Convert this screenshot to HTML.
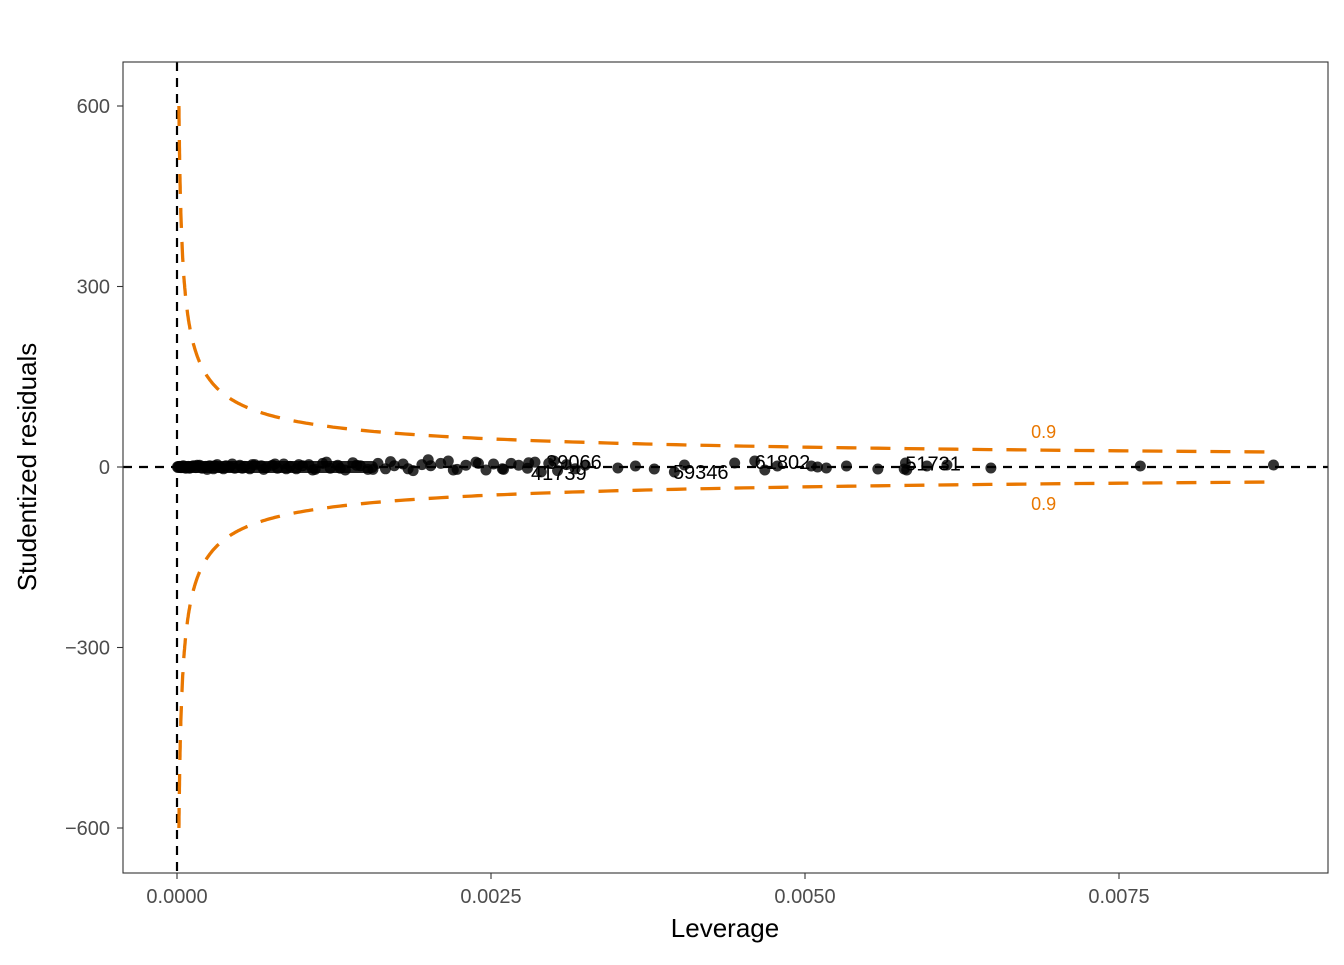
<!DOCTYPE html>
<html><head><meta charset="utf-8"><style>
body{margin:0;background:#fff}
svg text{font-family:"Liberation Sans",sans-serif}
</style></head><body>
<svg id="c" width="1344" height="960" viewBox="0 0 1344 960">
<rect x="0" y="0" width="1344" height="960" fill="#fff"/>
<g id="grid"></g>
<g id="marks"></g>
<rect x="123" y="62" width="1205" height="811" fill="none" stroke="#333" stroke-width="1.1"/>
<text x="725" y="937" text-anchor="middle" font-size="26" fill="#000">Leverage</text>
<text transform="translate(36,467) rotate(-90)" text-anchor="middle" font-size="26" fill="#000">Studentized residuals</text>
</svg>
<script>
const xTicks=[0,0.0025,0.005,0.0075];
const xTickLabels=["0.0000","0.0025","0.0050","0.0075"];
const yTicks=[-600,-300,0,300,600];
const yTickLabels=["-600","-300","0","300","600"];
const cookLevel=0.9;
const cookConst=2.34;
// leverage in units of 1e-4, residuals
const lev=[0.1,0.2,0.3,0.5,0.7,0.9,1.1,1.3,1.5,1.8,2.0,2.3,2.6,2.9,3.2,3.5,3.9,4.2,4.6,5.0,5.4,5.8,6.2,6.7,7.1,7.6,8.0,8.5,9.0,9.5,10.0,10.5,11.0,11.6,12.2,12.8,13.4,14.0,14.6,15.2,16.0,16.6,17.3,18.0,18.8,19.5,20.2,21.0,21.6,22.3,23.0,23.8,24.6,25.2,25.9,26.6,27.2,27.9,28.5,29.0,29.6,30.3,31.0,31.7,32.5,0.4,1.0,1.6,2.4,3.0,3.7,4.4,5.2,6.0,6.9,7.8,8.7,9.7,10.8,11.9,13.0,14.3,15.6,17.0,18.4,20.0,22.0,24.0,26.0,28.0,30.0,35.1,36.5,38.0,39.6,40.4,44.4,46.0,46.8,47.8,50.5,51.0,51.7,53.3,55.8,57.9,58.0,58.1,59.7,61.3,64.8,76.7,87.3];
const res=[0,1,-1,2,-2,1,0,2,-1,3,-2,1,2,-3,4,-1,2,0,-2,3,1,-3,4,2,-1,3,-2,5,1,-3,2,4,-4,6,-2,3,-5,7,2,-4,6,-3,2,5,-6,4,2,6,10,-4,3,8,-5,5,-3,6,3,-2,8,-8,6,-6,4,-3,3,-1,-2,3,-4,2,-3,5,-2,4,-4,5,-3,4,-5,8,-2,3,-4,9,-3,12,-5,6,-4,7,10,-1.7,1.7,-3.3,-8.3,3.3,6.6,10,-5,1.7,1.7,0,-1.7,1.7,-3.3,-3.3,6.6,-5,1.7,3.3,-1.7,1.7,3.3];
const labelText=["39066","41739","59346","61802","51731"];
const labelLev=[31.6,30.4,41.7,48.2,60.2];
const labelRes=[8,-10,-8,8,6];

const NS="http://www.w3.org/2000/svg";
const X0=177,XPX=314/0.0025,Y0=467,YPX=180.5/300;
const sx=v=>X0+v*XPX, sy=v=>Y0-v*YPX;
const svg=document.getElementById('c'),g=document.getElementById('grid'),m=document.getElementById('marks');
function el(t,a,p){const e=document.createElementNS(NS,t);for(const k in a)e.setAttribute(k,a[k]);p.appendChild(e);return e;}
xTicks.forEach((v,i)=>{
 const t=el('line',{x1:sx(v),x2:sx(v),y1:873,y2:879,stroke:'#333','stroke-width':1.1},svg);
 
 
 const l=el('text',{x:sx(v),y:903,'text-anchor':'middle','font-size':20,fill:'#4d4d4d'},svg);
 l.textContent=xTickLabels[i];
 
 
});
yTicks.forEach((v,i)=>{
 const t=el('line',{x1:117,x2:123,y1:sy(v),y2:sy(v),stroke:'#333','stroke-width':1.1},svg);
 
 
 const l=el('text',{x:110,y:sy(v)+7,'text-anchor':'end','font-size':20,fill:'#4d4d4d'},svg);
 l.textContent=yTickLabels[i].replace('-','\u2212');
 
 
});
const hl=el('line',{x1:123,x2:1328,y1:sy(0),y2:sy(0),stroke:'#000','stroke-width':2.2,'stroke-dasharray':'9,7'},m);


const vl=el('line',{x1:sx(0),x2:sx(0),y1:62,y2:873,stroke:'#000','stroke-width':2.2,'stroke-dasharray':'9,7'},m);


[1,-1].forEach(s=>{
 let d='';
 const hmin=Math.pow(cookConst/600,2), hmax=0.0087;
 for(let i=0;i<=300;i++){
  const h=hmin*Math.pow(hmax/hmin,i/300);
  const y=s*cookConst*Math.sqrt((1-h)/h);
  d+=(i?'L':'M')+sx(h).toFixed(1)+','+sy(y).toFixed(1);
 }
 const p=el('path',{d:d,fill:'none',stroke:'#e97700','stroke-width':3.3,'stroke-dasharray':'20,14'},m);
 
 
 const hl2=0.0069, yl=s*cookConst*Math.sqrt((1-hl2)/hl2);
 const t=el('text',{x:sx(hl2),y:sy(yl)+(s>0?-12:26),'text-anchor':'middle','font-size':18,fill:'#e97700'},m);
 t.textContent=String(cookLevel);
 
 
});
lev.forEach((v,i)=>{
 const c=el('circle',{cx:sx(v*1e-4),cy:sy(res[i]),r:5.5,fill:'#000','fill-opacity':0.8},m);
 
 
});
const band=el('rect',{x:sx(0)-5,y:sy(0)-6,width:sx(0.0016)-sx(0)+5,height:12,rx:6,fill:'#000','fill-opacity':0.85},m);


labelText.forEach((s,i)=>{
 const t=el('text',{x:sx(labelLev[i]*1e-4),y:sy(labelRes[i])+7,'text-anchor':'middle','font-size':20,fill:'#000'},m);
 t.textContent=s;
 
 
});
</script>
</body></html>
